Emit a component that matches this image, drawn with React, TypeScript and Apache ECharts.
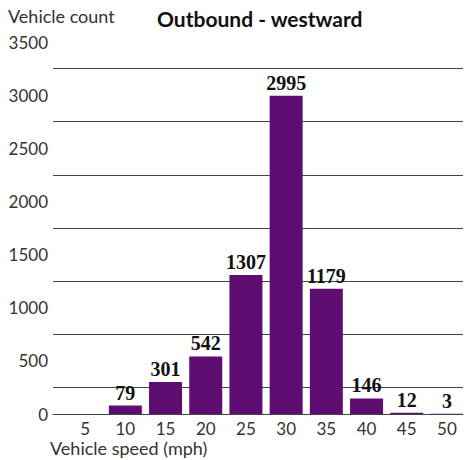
import React, { useEffect, useRef } from "react";
import * as echarts from "echarts";

const speeds = [5, 10, 15, 20, 25, 30, 35, 40, 45, 50];
const counts = [0, 79, 301, 542, 1307, 2995, 1179, 146, 12, 3];
const yTickLabels = [0, 500, 1000, 1500, 2000, 2500, 3000, 3500];
const titleText = "Outbound - westward";
const yName = "Vehicle count";
const xName = "Vehicle speed (mph)";

const FONT = "Lato, 'Open Sans', sans-serif";

export default function App() {
  const ref = useRef<HTMLDivElement>(null);
  useEffect(() => {
    if (!ref.current) return;
    const chart = echarts.init(ref.current, undefined, { renderer: "svg" });
    chart.setOption({
      animation: false,
      backgroundColor: "#ffffff",
      title: {
        text: titleText,
        left: 152,
        top: 3,
        textStyle: { fontFamily: FONT, fontWeight: "bold", fontSize: 21, color: "#111" },
      },
      graphic: [
        {
          type: "text",
          left: 8,
          top: 7,
          style: { text: yName, fontFamily: FONT, fontSize: 18, fill: "#333" },
        },
        {
          type: "text",
          left: 50,
          top: 439,
          style: { text: xName, fontFamily: FONT, fontSize: 18, lineHeight: 18, fill: "#333" },
        },
      ],
      grid: {
        left: 53,
        right: 4,
        top: 42,
        bottom: 46,
        containLabel: false,
        outerBoundsMode: "none",
      },
      xAxis: {
        type: "value",
        min: 1,
        max: 52,
        splitLine: { show: false },
        axisLine: { show: true, lineStyle: { color: "#444", width: 1 } },
        axisTick: { show: false },
        axisLabel: {
          customValues: speeds,
          fontFamily: FONT,
          fontSize: 17,
          lineHeight: 17,
          color: "#333",
          margin: 6,
        },
      },
      yAxis: {
        type: "value",
        min: 0,
        max: 3500,
        interval: 250,
        axisLine: { show: false },
        axisTick: { show: false },
        axisLabel: {
          fontFamily: FONT,
          fontSize: 17,
          color: "#333",
          margin: 5,
          padding: [6, 0, 0, 0],
          formatter: (v: number) => (yTickLabels.includes(v) ? String(v) : ""),
        },
        splitLine: {
          show: true,
          lineStyle: { color: ["rgba(0,0,0,0)", "#444"], width: 1 },
        },
      },
      series: [
        {
          type: "bar",
          data: speeds.map((s, i) => [s, counts[i]]),
          barWidth: 33,
          itemStyle: { color: "#5e0e73" },
          label: {
            show: true,
            position: "top",
            distance: 3,
            fontFamily: "'Liberation Serif', 'DejaVu Serif', serif",
            fontWeight: "bold",
            fontSize: 20,
            color: "#111",
            formatter: (p: any) => (p.value[1] > 0 ? String(p.value[1]) : ""),
          },
        },
      ],
    });
    return () => chart.dispose();
  }, []);
  return (
    <div
      ref={ref}
      style={{ position: "fixed", left: 0, top: 0, width: 467, height: 460 }}
    />
  );
}
